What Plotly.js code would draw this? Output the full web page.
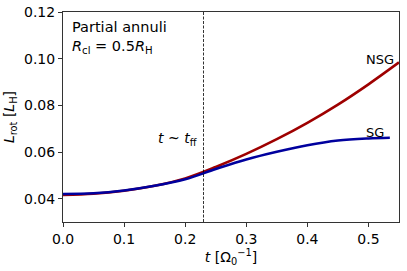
<!DOCTYPE html>
<html>
<head>
<meta charset="utf-8">
<script src="https://cdn.plot.ly/plotly-3.0.1.min.js"></script>
<style>html,body{margin:0;padding:0;background:#fff}#chart{width:407px;height:271px}</style>
</head>
<body>
<div id="chart"></div>
<script>
const tNSG = [0, 0.05, 0.1, 0.15, 0.2, 0.25, 0.3, 0.35, 0.4, 0.45, 0.5, 0.55];
const lNSG = [0.0416, 0.0421, 0.0434, 0.0455, 0.0487, 0.0536, 0.0592, 0.0655, 0.0725, 0.0803, 0.0890, 0.0984];
const tSG = [0, 0.05, 0.1, 0.15, 0.2, 0.25, 0.3, 0.35, 0.4, 0.45, 0.5, 0.535];
const lSG = [0.0420, 0.0423, 0.0435, 0.0455, 0.0483, 0.0527, 0.0568, 0.0601, 0.0629, 0.0649, 0.0658, 0.0661];
const tFF = 0.23;
const xTicks = [0.0, 0.1, 0.2, 0.3, 0.4, 0.5];
const xTickText = ['0.0', '0.1', '0.2', '0.3', '0.4', '0.5'];
const yTicks = [0.04, 0.06, 0.08, 0.10, 0.12];
const yTickText = ['0.04', '0.06', '0.08', '0.10', '0.12'];

const font = {family: 'DejaVu Sans', size: 14, color: '#000'};

const traces = [
  {x: tNSG, y: lNSG, mode: 'lines', line: {color: '#9e0000', width: 2.6, shape: 'spline'}, name: 'NSG', hoverinfo: 'skip'},
  {x: tSG, y: lSG, mode: 'lines', line: {color: '#00009e', width: 2.6, shape: 'spline'}, name: 'SG', hoverinfo: 'skip'}
];

const axisCommon = {
  showgrid: false, zeroline: false, showline: true, mirror: true,
  linecolor: '#333', linewidth: 1, ticks: 'outside', ticklen: 4, tickcolor: '#333',
  tickfont: font
};

const layout = {
  width: 407, height: 271,
  margin: {l: 63, r: 8, t: 12, b: 49},
  paper_bgcolor: '#fff', plot_bgcolor: '#fff',
  showlegend: false,
  font: font,
  xaxis: Object.assign({}, axisCommon, {
    range: [0, 0.55], tickvals: xTicks, ticktext: xTickText,
    title: {text: '<i>t</i> [Ω<sub>0</sub><sup>−1</sup>]', font: font, standoff: 6}
  }),
  yaxis: Object.assign({}, axisCommon, {
    range: [0.03, 0.12], tickvals: yTicks, ticktext: yTickText,
    title: {text: '<i>L</i><sub>rot</sub> [<i>L</i><sub>H</sub>]', font: font, standoff: 6}
  }),
  shapes: [
    {type: 'line', xref: 'x', yref: 'paper', x0: tFF, x1: tFF, y0: 0, y1: 1,
     line: {color: '#000', width: 0.8, dash: '3px,1.5px'}}
  ],
  annotations: [
    {xref: 'paper', yref: 'paper', x: 0.02, y: 0.975, xanchor: 'left', yanchor: 'top', align: 'left',
     showarrow: false, font: {family: 'DejaVu Sans', size: 14.5, color: '#000'},
     text: 'Partial annuli<br><i>R</i><sub>cl</sub> = 0.5<i>R</i><sub>H</sub>'},
    {xref: 'x', yref: 'y', x: 0.545, y: 0.0995, xanchor: 'right', yanchor: 'middle', showarrow: false,
     font: {family: 'DejaVu Sans', size: 13, color: '#000'}, text: 'NSG'},
    {xref: 'x', yref: 'y', x: 0.528, y: 0.0682, xanchor: 'right', yanchor: 'middle', showarrow: false,
     font: {family: 'DejaVu Sans', size: 13, color: '#000'}, text: 'SG'},
    {xref: 'x', yref: 'y', x: 0.222, y: 0.0655, xanchor: 'right', yanchor: 'middle', showarrow: false,
     font: font, text: '<i>t</i> ~ <i>t</i><sub>ff</sub>'}
  ]
};

Plotly.newPlot('chart', traces, layout, {staticPlot: true, displayModeBar: false});
</script>
</body>
</html>
